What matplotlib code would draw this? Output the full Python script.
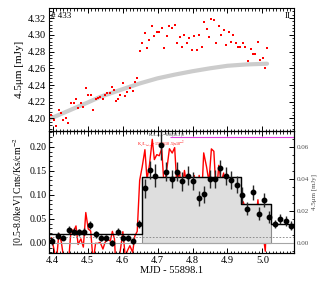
import matplotlib
matplotlib.use("Agg")
import matplotlib.pyplot as plt
from matplotlib.ticker import MultipleLocator, FormatStrFormatter

plt.rcParams['font.family'] = ['Liberation Serif', 'DejaVu Serif']
plt.rcParams['mathtext.fontset'] = 'stix'

# --- IR light curve (top panel) ---
ir_t = [4.397, 4.404, 4.411, 4.418, 4.425, 4.431, 4.438, 4.445, 4.453, 4.460,
        4.467, 4.473, 4.481, 4.488, 4.495, 4.502, 4.509, 4.516, 4.523, 4.529,
        4.536, 4.544, 4.550, 4.557, 4.565, 4.571, 4.577, 4.580, 4.587, 4.593,
        4.601, 4.608, 4.614, 4.621, 4.629, 4.635, 4.642, 4.649, 4.656, 4.664,
        4.670, 4.677, 4.685, 4.691, 4.698, 4.705, 4.712, 4.719, 4.728, 4.734,
        4.742, 4.749, 4.755, 4.763, 4.769, 4.777, 4.784, 4.790, 4.798, 4.805,
        4.812, 4.819, 4.826, 4.832, 4.840, 4.847, 4.854, 4.861, 4.868, 4.875,
        4.882, 4.889, 4.896, 4.903, 4.909, 4.917, 4.924, 4.931, 4.937, 4.945,
        4.951, 4.959, 4.966, 4.972, 4.980, 4.987, 4.994, 5.001, 5.008, 5.012]
ir_flux = [4.2036, 4.1976, 4.191, 4.210, 4.206, 4.198, 4.200, 4.195, 4.219, 4.219,
           4.2236, 4.213, 4.218, 4.214, 4.237, 4.228, 4.228, 4.210, 4.223, 4.224,
           4.226, 4.223, 4.228, 4.231, 4.231, 4.238, 4.234, 4.221, 4.223, 4.228,
           4.242, 4.227, 4.232, 4.236, 4.233, 4.244, 4.248, 4.281, 4.290, 4.302,
           4.284, 4.294, 4.311, 4.299, 4.303, 4.303, 4.308, 4.284, 4.299, 4.310,
           4.308, 4.312, 4.290, 4.298, 4.285, 4.300, 4.290, 4.296, 4.282, 4.299,
           4.282, 4.300, 4.285, 4.315, 4.307, 4.298, 4.319, 4.318, 4.290, 4.310,
           4.300, 4.306, 4.288, 4.303, 4.291, 4.300, 4.290, 4.286, 4.286, 4.290,
           4.286, 4.269, 4.283, 4.277, 4.277, 4.292, 4.270, 4.272, 4.260, 4.284]

# smooth baseline (gray curve)
base_t = [4.392, 4.45, 4.50, 4.537, 4.60, 4.65, 4.70, 4.75, 4.80, 4.85, 4.90, 4.95, 5.013]
base_flux = [4.1996, 4.210, 4.219, 4.226, 4.235, 4.242, 4.248, 4.2525, 4.2565, 4.260,
             4.263, 4.2645, 4.2655]

# IR minus baseline (red line, right axis of bottom panel)
ir_resid = [0.0031, -0.0041, -0.012, 0.0057, 0.0005, -0.0086, -0.0079, -0.0141, 0.0085, 0.0072,
            0.0105, -0.0011, 0.0024, -0.0028, 0.0189, 0.0086, 0.0073, -0.012, -0.0004, -0.0005,
            0.0002, -0.004, 0.0001, 0.0021, 0.001, 0.0071, 0.0023, -0.0111, -0.0101, -0.006,
            0.0069, -0.0091, -0.005, -0.0019, -0.0061, 0.0041, 0.0071, 0.0391, 0.0473, 0.0583,
            0.0396, 0.0488, 0.0648, 0.0521, 0.0552, 0.0545, 0.0589, 0.0343, 0.0485, 0.0589,
            0.0562, 0.0596, 0.0371, 0.0445, 0.031, 0.0453, 0.0348, 0.0403, 0.0257, 0.0421,
            0.0247, 0.0422, 0.0267, 0.0563, 0.0477, 0.0382, 0.0588, 0.0573, 0.0289, 0.0485,
            0.0381, 0.0437, 0.0252, 0.0399, 0.0277, 0.0365, 0.0263, 0.0221, 0.0219, 0.0256,
            0.0215, 0.0044, 0.0182, 0.0121, 0.012, 0.0269, 0.0048, 0.0067, -0.0054, 0.0185]

# --- X-ray light curve (bottom panel) ---
xr_t = [4.399, 4.415, 4.429, 4.446, 4.461, 4.476, 4.491, 4.508, 4.523, 4.538,
        4.554, 4.571, 4.586, 4.601, 4.616, 4.631, 4.647, 4.663, 4.678, 4.694,
        4.709, 4.725, 4.740, 4.756, 4.771, 4.787, 4.802, 4.818, 4.833, 4.849,
        4.864, 4.880, 4.896, 4.911, 4.927, 4.942, 4.957, 4.973, 4.989, 5.004,
        5.020, 5.035, 5.051, 5.066, 5.082]
xr_rate = [0.003, 0.015, 0.011, 0.026, 0.023, 0.022, 0.023, 0.037, 0.018, 0.010,
           0.010, -0.001, 0.023, 0.010, 0.010, 0.003, 0.039, 0.114, 0.152, 0.140,
           0.204, 0.148, 0.133, 0.148, 0.128, 0.140, 0.129, 0.093, 0.101, 0.133,
           0.133, 0.155, 0.140, 0.131, 0.121, 0.100, 0.071, 0.105, 0.061, 0.089,
           0.054, 0.039, 0.050, 0.046, 0.036]
xr_err = [0.007, 0.007, 0.006, 0.008, 0.007, 0.007, 0.007, 0.009, 0.007, 0.006,
          0.006, 0.006, 0.007, 0.006, 0.006, 0.006, 0.009, 0.020, 0.019, 0.024,
          0.032, 0.020, 0.019, 0.020, 0.019, 0.020, 0.019, 0.016, 0.017, 0.019,
          0.019, 0.018, 0.019, 0.019, 0.018, 0.017, 0.014, 0.016, 0.013, 0.015,
          0.012, 0.009, 0.010, 0.010, 0.009]

# bayesian blocks
block_edges = [4.39, 4.657, 4.94, 5.023, 5.09]
block_rate = [0.018, 0.137, 0.081, 0.040]
flare_edges = [4.657, 4.94, 5.023]
flare_rate = [0.137, 0.081]

xlim = (4.39, 5.09)

fig = plt.figure(figsize=(3.27, 2.88), dpi=100)
ax1 = fig.add_axes([0.150, 0.545, 0.749, 0.427])
ax2 = fig.add_axes([0.150, 0.122, 0.749, 0.423])
ax3 = ax2.twinx()

def style(ax):
    ax.tick_params(which='both', direction='in', top=True, right=True, labelsize=7.5, pad=2)
    ax.tick_params(which='major', length=3.5, width=0.7)
    ax.tick_params(which='minor', length=1.8, width=0.6)
    for s in ax.spines.values():
        s.set_linewidth(0.8)

# top panel
ax1.plot(base_t, base_flux, color='0.8', lw=3, solid_capstyle='round', zorder=1)
ax1.plot(ir_t, ir_flux, 's', color='red', ms=1.8, mew=0, zorder=2)
ax1.set_xlim(*xlim)
ax1.set_ylim(4.185, 4.332)
ax1.xaxis.set_major_locator(MultipleLocator(0.1))
ax1.xaxis.set_minor_locator(MultipleLocator(0.01))
ax1.yaxis.set_major_locator(MultipleLocator(0.02))
ax1.yaxis.set_minor_locator(MultipleLocator(0.004))
ax1.yaxis.set_major_formatter(FormatStrFormatter('%.2f'))
ax1.set_xticklabels([])
style(ax1)
ax1.set_ylabel('4.5μm [mJy]', fontsize=8, labelpad=3)
ax1.text(0.01, 0.97, '# 433', transform=ax1.transAxes, fontsize=6.5, va='top', ha='left')
ax1.text(0.985, 0.97, 'II', transform=ax1.transAxes, fontsize=6.5, va='top', ha='right')

# bottom panel
ax2.fill_between(flare_edges, [flare_rate[0], flare_rate[1], flare_rate[1]], 0,
                 step='post', facecolor='0.87', edgecolor='0.55', lw=0.8, zorder=1)
ax2.axhline(0, color='0.65', lw=0.8, zorder=1)
ax2.axhline(0.012, color='0.5', lw=0.6, ls=(0, (2, 2)), zorder=1)
ax2.step(block_edges, block_rate + [block_rate[-1]], where='post', color='k', lw=1.0, zorder=4)
ax2.errorbar(xr_t, xr_rate, yerr=xr_err, fmt='o', color='k', ms=3.2, elinewidth=1.0,
             ecolor='0.15', capsize=0, zorder=5)
ax2.set_xlim(*xlim)
ax2.set_ylim(-0.021, 0.233)
ax2.xaxis.set_major_locator(MultipleLocator(0.1))
ax2.xaxis.set_minor_locator(MultipleLocator(0.01))
ax2.yaxis.set_major_locator(MultipleLocator(0.05))
ax2.yaxis.set_minor_locator(MultipleLocator(0.01))
ax2.yaxis.set_major_formatter(FormatStrFormatter('%.2f'))
style(ax2)
ax2.tick_params(right=False, which='both')
ax2.tick_params(axis='y', labelsize=7)
ax2.set_xlabel('MJD - 55898.1', fontsize=7.5, labelpad=1)
ax2.set_ylabel('[0.5-8.0keV] Cnts/Ks/cm$^{-2}$', fontsize=7, labelpad=2)

ax3.plot(ir_t, ir_resid, color='red', lw=1.0, zorder=3)
ax3.hlines(0.066, 4.737, xlim[1], color='#e040e0', lw=0.8)
ax3.set_ylim(-0.0064, 0.070)
ax3.yaxis.set_major_locator(MultipleLocator(0.02))
ax3.yaxis.set_minor_locator(MultipleLocator(0.005))
ax3.yaxis.set_major_formatter(FormatStrFormatter('%.2f'))
ax3.tick_params(which='both', direction='in', labelsize=5, pad=2, labelcolor='0.3')
ax3.tick_params(which='major', length=3.5, width=0.7)
ax3.tick_params(which='minor', length=1.8, width=0.6)
ax3.set_ylabel('4.5μm [mJy]', fontsize=5, color='0.3', labelpad=2)
ax2.set_zorder(ax3.get_zorder() + 1)
ax2.patch.set_visible(False)

# fit ratios, two stacked lines of tiny text
ax2.text(0.405, 0.993, 'K$_s$/L$_{bol,X}$=696(30.3)0', transform=ax2.transAxes,
         fontsize=3.0, va='top', ha='left', color='0.2')
ax2.text(0.36, 0.932, 'K$_s$/L$_{bol,X}$=156.0(10.5)x10$^{-2}$', transform=ax2.transAxes,
         fontsize=3.0, va='top', ha='left', color='red')

fig.savefig('out.png', dpi=100)
